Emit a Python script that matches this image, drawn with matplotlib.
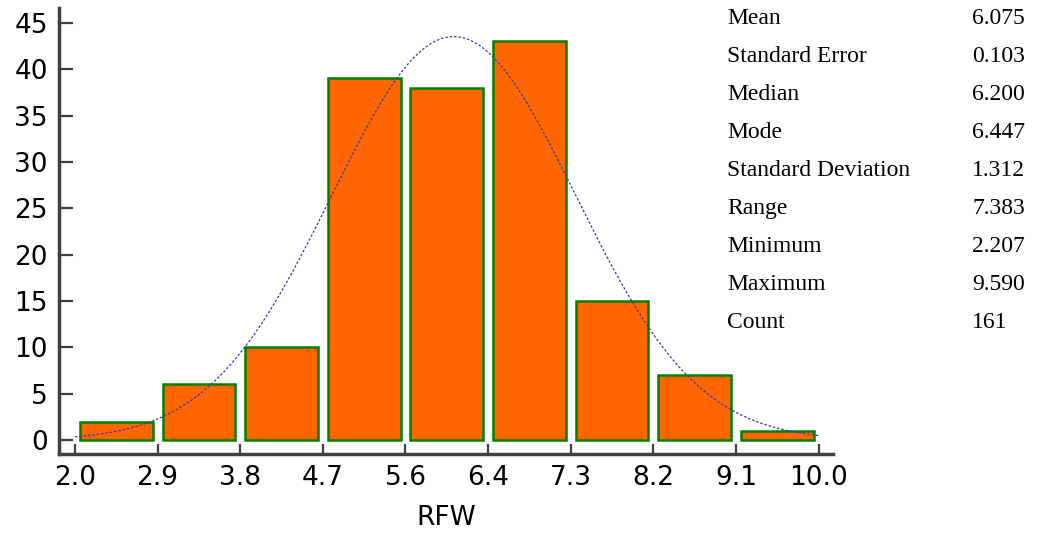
import numpy as np
import matplotlib.pyplot as plt

# histogram of RFW (9 bins between 2.0 and 10.0)
bin_lo = 2.0
bin_hi = 10.0
counts = [2, 6, 10, 39, 38, 43, 15, 7, 1]
tick_labels = ["2.0", "2.9", "3.8", "4.7", "5.6", "6.4", "7.3", "8.2", "9.1", "10.0"]

# summary statistics shown on the right
stat_names = ["Mean", "Standard Error", "Median", "Mode", "Standard Deviation",
              "Range", "Minimum", "Maximum", "Count"]
stat_values = ["6.075", "0.103", "6.200", "6.447", "1.312",
               "7.383", "2.207", "9.590", "161"]
mean = 6.075
sd = 1.312
n = 161

edges = np.linspace(bin_lo, bin_hi, len(counts) + 1)
width = edges[1] - edges[0]
centers = (edges[:-1] + edges[1:]) / 2

fig = plt.figure(figsize=(10.38, 5.33), dpi=100)
ax = fig.add_axes([59 / 1038, 79 / 533, (833 - 59) / 1038, (454 - 8) / 533])

ax.bar(centers, counts, width=width * 0.88, color="#FF6600",
       edgecolor="#008000", linewidth=1.8, zorder=2)

# fitted normal curve
xs = np.linspace(bin_lo, bin_hi, 300)
ys = n * width * np.exp(-0.5 * ((xs - mean) / sd) ** 2) / (sd * np.sqrt(2 * np.pi))
ax.plot(xs, ys, color="#3a3aa8", linewidth=0.9, linestyle=(0, (2, 1.5)), zorder=3)

ax.set_xlim(bin_lo - 0.172, bin_hi + 0.155)
ax.set_ylim(-1.5, 46.6)
ax.set_xticks(edges)
ax.set_xticklabels(tick_labels)
ax.set_yticks(range(0, 50, 5))

for s in ["top", "right"]:
    ax.spines[s].set_visible(False)
for s in ["left", "bottom"]:
    ax.spines[s].set_linewidth(2.5)
    ax.spines[s].set_color("#404040")

ax.tick_params(axis="y", direction="in", length=10, width=1.6, color="#404040",
               labelsize=19, pad=8)
ax.tick_params(axis="x", direction="in", length=7, width=1.6, color="#404040",
               labelsize=19, pad=8)
for lab in ax.get_xticklabels() + ax.get_yticklabels():
    lab.set_family("DejaVu Sans")
ax.set_xlabel("RFW", fontsize=19, family="DejaVu Sans", labelpad=10)

# statistics table
for i, (name, val) in enumerate(zip(stat_names, stat_values)):
    y = 1 - (19 + i * 37.9) / 533
    fig.text(727 / 1038, y, name, fontsize=17, family="Liberation Serif",
             va="center", ha="left")
    fig.text(972 / 1038, y, val, fontsize=17, family="Liberation Serif",
             va="center", ha="left")

fig.savefig("out.png", dpi=100)
